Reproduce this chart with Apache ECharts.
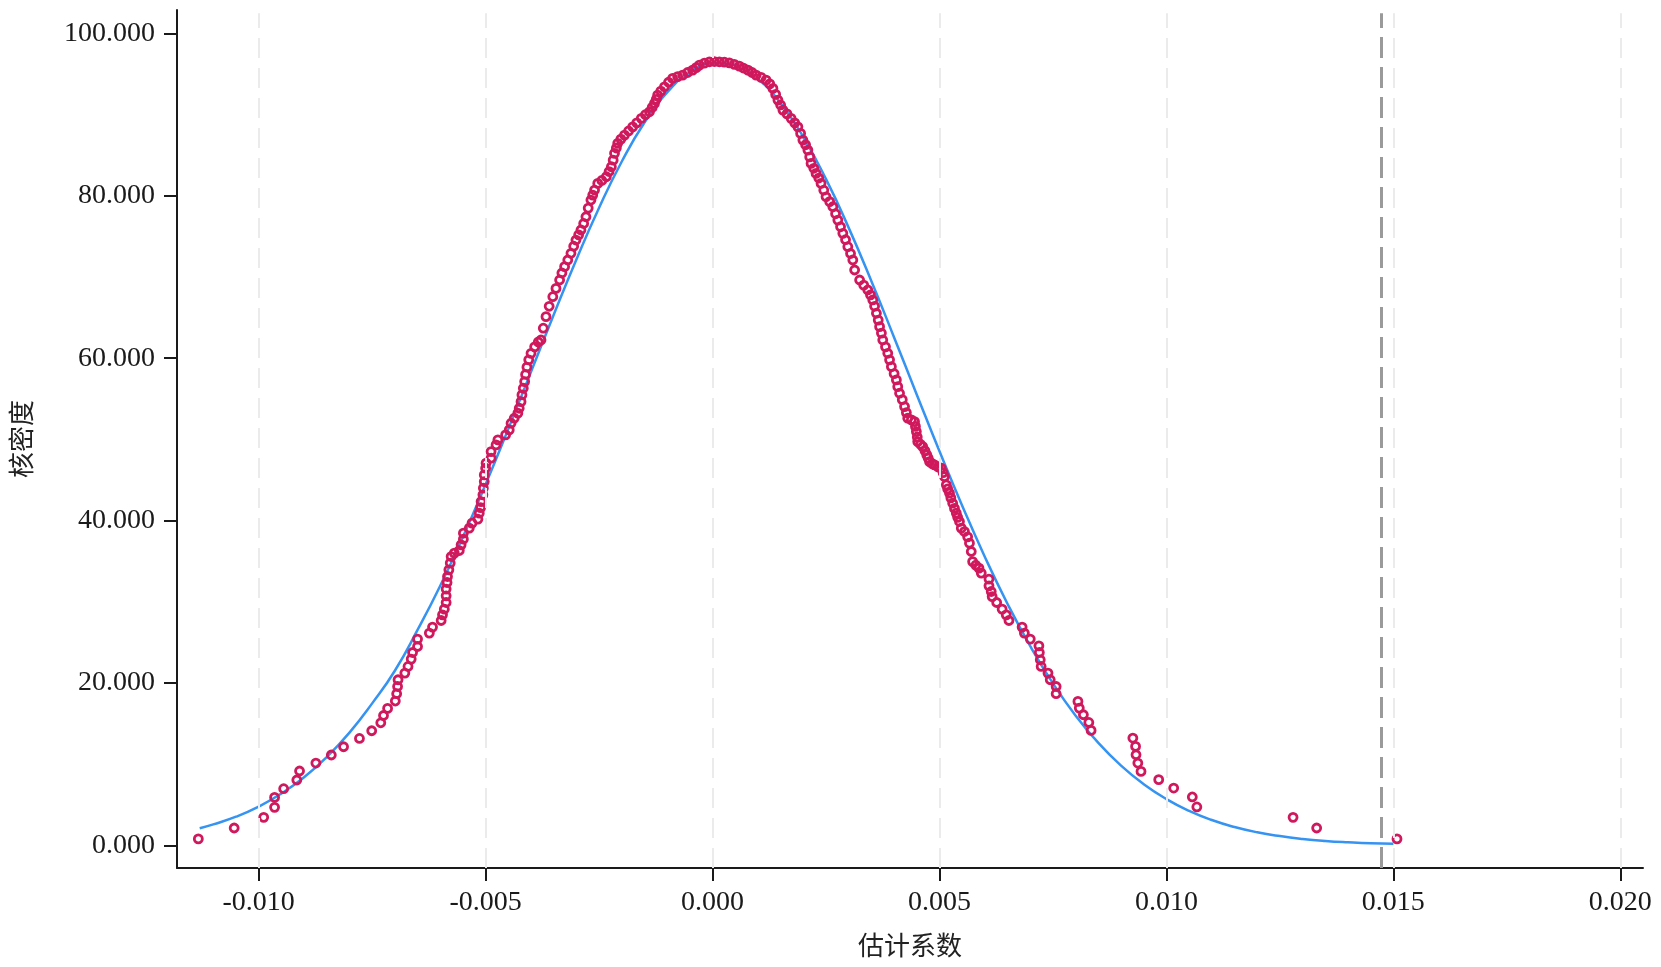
<!DOCTYPE html>
<html>
<head>
<meta charset="utf-8">
<title>核密度</title>
<script src="https://cdn.jsdelivr.net/npm/echarts@6/dist/echarts.min.js"></script>
<style>
  html, body { margin: 0; padding: 0; background: #fff; }
  #chart { width: 1661px; height: 967px; }
</style>
</head>
<body>
<div id="chart"></div>
<script>
// axis ticks
const xTicks = [-0.010, -0.005, 0.000, 0.005, 0.010, 0.015, 0.020];
const yTicks = [0, 20, 40, 60, 80, 100];
const refLineX = 0.01473; // dashed reference line

// fitted normal curve (blue)
const normX = [-0.0113, -0.0110, -0.0105, -0.0100, -0.0095, -0.0090, -0.0085, -0.0080, -0.0075, -0.0070,
  -0.0065, -0.0060, -0.0055, -0.0050, -0.0045, -0.0040, -0.0035, -0.0030, -0.0025, -0.0020,
  -0.0015, -0.0010, -0.0005, 0.0000, 0.0005, 0.0010, 0.0015, 0.0020, 0.0025, 0.0030,
  0.0035, 0.0040, 0.0045, 0.0050, 0.0055, 0.0060, 0.0065, 0.0070, 0.0075, 0.0080,
  0.0085, 0.0090, 0.0095, 0.0100, 0.0105, 0.0110, 0.0115, 0.0120, 0.0125, 0.0130,
  0.0135, 0.0140, 0.0145, 0.0150];
const normY = [2.10, 2.57, 3.52, 4.77, 6.37, 8.38, 10.87, 13.88, 17.48, 21.50,
  26.53, 31.98, 37.99, 44.47, 51.30, 58.33, 65.36, 72.17, 78.54, 84.24,
  89.04, 92.75, 95.22, 96.34, 96.06, 94.39, 91.41, 87.24, 82.06, 76.06,
  69.49, 62.56, 55.51, 48.53, 41.83, 35.52, 29.73, 24.53, 19.94, 15.97,
  12.61, 9.81, 7.52, 5.69, 4.24, 3.11, 2.25, 1.60, 1.13, 0.78,
  0.53, 0.36, 0.24, 0.20];

// kernel density at each estimate (red circles)
const kdeX = [
  -0.01133, -0.01054, -0.00989, -0.00965, -0.00965, -0.00945, -0.00916, -0.00910, -0.00874, -0.00840,
  -0.00813, -0.00778, -0.00751, -0.00731, -0.00725, -0.00716, -0.00699, -0.00696, -0.00694, -0.00693,
  -0.00678, -0.00671, -0.00664, -0.00661, -0.00650, -0.00650, -0.00624, -0.00617, -0.00598, -0.00595,
  -0.00591, -0.00587, -0.00587, -0.00587, -0.00585, -0.00584, -0.00581, -0.00578, -0.00576, -0.00569,
  -0.00558, -0.00554, -0.00549, -0.00549, -0.00536, -0.00530, -0.00517, -0.00514, -0.00511, -0.00510,
  -0.00506, -0.00505, -0.00503, -0.00503, -0.00500, -0.00499, -0.00488, -0.00488, -0.00477, -0.00473,
  -0.00456, -0.00448, -0.00444, -0.00437, -0.00429, -0.00426, -0.00422, -0.00420, -0.00417, -0.00414,
  -0.00412, -0.00409, -0.00405, -0.00400, -0.00392, -0.00384, -0.00378, -0.00373, -0.00367, -0.00360,
  -0.00352, -0.00345, -0.00337, -0.00332, -0.00326, -0.00319, -0.00312, -0.00306, -0.00301, -0.00295,
  -0.00290, -0.00284, -0.00279, -0.00274, -0.00268, -0.00264, -0.00260, -0.00253, -0.00244, -0.00234,
  -0.00228, -0.00223, -0.00219, -0.00216, -0.00212, -0.00209, -0.00202, -0.00194, -0.00185, -0.00176,
  -0.00167, -0.00157, -0.00148, -0.00139, -0.00133, -0.00128, -0.00124, -0.00121, -0.00114, -0.00106,
  -0.00097, -0.00088, -0.00077, -0.00066, -0.00055, -0.00044, -0.00036, -0.00029, -0.00018, -0.00007,
  0.00004, 0.00015, 0.00026, 0.00037, 0.00048, 0.00059, 0.00068, 0.00078, 0.00087, 0.00096,
  0.00107, 0.00118, 0.00126, 0.00133, 0.00139, 0.00144, 0.00150, 0.00155, 0.00164, 0.00173,
  0.00181, 0.00188, 0.00194, 0.00199, 0.00205, 0.00210, 0.00214, 0.00217, 0.00223, 0.00228,
  0.00234, 0.00239, 0.00245, 0.00250, 0.00258, 0.00265, 0.00271, 0.00276, 0.00282, 0.00287,
  0.00293, 0.00298, 0.00304, 0.00309, 0.00313, 0.00324, 0.00333, 0.00342, 0.00348, 0.00353,
  0.00357, 0.00361, 0.00365, 0.00368, 0.00372, 0.00375, 0.00381, 0.00386, 0.00390, 0.00394,
  0.00400, 0.00405, 0.00408, 0.00412, 0.00418, 0.00423, 0.00427, 0.00430, 0.00438, 0.00445,
  0.00447, 0.00449, 0.00451, 0.00452, 0.00458, 0.00463, 0.00468, 0.00472, 0.00475, 0.00478,
  0.00484, 0.00489, 0.00497, 0.00504, 0.00508, 0.00511, 0.00515, 0.00518, 0.00522, 0.00525,
  0.00529, 0.00533, 0.00537, 0.00540, 0.00544, 0.00548, 0.00555, 0.00562, 0.00566, 0.00570,
  0.00573, 0.00580, 0.00587, 0.00592, 0.00609, 0.00609, 0.00614, 0.00616, 0.00626, 0.00638,
  0.00647, 0.00653, 0.00682, 0.00687, 0.00700, 0.00719, 0.00720, 0.00722, 0.00724, 0.00739,
  0.00744, 0.00757, 0.00757, 0.00805, 0.00808, 0.00817, 0.00829, 0.00834, 0.00926, 0.00932,
  0.00933, 0.00937, 0.00944, 0.00983, 0.01016, 0.01057, 0.01067, 0.01279, 0.01331, 0.01508
];
const kdeY = [
  0.78, 2.13, 3.44, 4.67, 5.90, 6.97, 8.04, 9.15, 10.13, 11.12,
  12.14, 13.16, 14.11, 15.09, 15.99, 16.86, 17.77, 18.67, 19.56, 20.39,
  21.21, 22.03, 22.94, 23.75, 24.49, 25.40, 26.14, 26.88, 27.69, 28.39,
  29.09, 29.91, 30.73, 31.56, 32.37, 33.11, 33.93, 34.76, 35.57, 35.99,
  36.31, 37.01, 37.71, 38.45, 39.07, 39.68, 40.17, 40.91, 41.60, 42.34,
  43.17, 43.99, 44.80, 45.63, 46.45, 47.07, 47.69, 48.50, 49.32, 49.94,
  50.55, 51.17, 51.99, 52.61, 53.23, 53.84, 54.65, 55.48, 56.30, 57.12,
  58.00, 58.90, 59.80, 60.60, 61.40, 62.00, 62.25, 63.70, 65.12, 66.40,
  67.58, 68.60, 69.64, 70.50, 71.28, 72.10, 72.93, 73.80, 74.56, 75.20,
  75.80, 76.60, 77.43, 78.50, 79.49, 80.10, 80.72, 81.54, 81.90, 82.36,
  83.00, 83.59, 84.40, 85.24, 85.90, 86.47, 87.00, 87.49, 88.00, 88.51,
  89.00, 89.55, 90.00, 90.36, 90.90, 91.39, 91.90, 92.41, 92.90, 93.44,
  94.00, 94.47, 94.70, 94.88, 95.20, 95.49, 95.80, 96.11, 96.35, 96.52,
  96.55, 96.52, 96.48, 96.39, 96.20, 95.98, 95.75, 95.49, 95.20, 94.88,
  94.60, 94.27, 93.80, 93.24, 92.50, 91.80, 91.20, 90.57, 90.10, 89.55,
  89.00, 88.51, 87.70, 86.87, 86.30, 85.64, 84.80, 84.00, 83.40, 82.77,
  82.20, 81.54, 80.70, 79.89, 79.30, 78.66, 77.80, 77.02, 76.20, 75.39,
  74.60, 73.74, 72.90, 72.10, 70.87, 69.64, 69.00, 68.41, 67.80, 67.18,
  66.40, 65.54, 64.70, 63.89, 63.10, 62.25, 61.40, 60.61, 59.80, 58.96,
  58.10, 57.33, 56.50, 55.69, 54.90, 54.04, 53.30, 52.61, 52.40, 52.19,
  51.60, 50.96, 50.30, 49.73, 49.40, 49.11, 48.60, 48.09, 47.70, 47.27,
  47.00, 46.86, 46.60, 46.45, 45.90, 45.42, 44.40, 43.90, 43.38, 42.80,
  42.14, 41.50, 40.91, 40.40, 39.88, 39.07, 38.65, 38.00, 37.22, 36.19,
  34.95, 34.50, 34.14, 33.53, 32.79, 31.96, 31.26, 30.64, 29.91, 29.09,
  28.39, 27.69, 26.88, 26.14, 25.40, 24.57, 23.75, 22.85, 22.03, 21.21,
  20.39, 19.56, 18.67, 17.72, 16.90, 16.08, 15.13, 14.15, 13.21, 12.18,
  11.15, 10.13, 9.10, 8.08, 7.05, 5.95, 4.72, 3.44, 2.13, 0.78
];

const serif = '"Liberation Serif", "DejaVu Serif", serif';
const cjk = '"Noto Sans CJK SC", sans-serif';
const yMin = -2.8;
const yMax = 102.9;

var myChart = echarts.init(document.getElementById('chart'));

// vertical dashed line from bottom to top of the plot
const vLine = v => [{ coord: [v, yMin] }, { coord: [v, yMax - 0.4] }];

const getOptions = () => {
  return {
    backgroundColor: '#fff',
    animation: false,
    grid: {
      left: 177,
      right: 18,
      top: 10,
      bottom: 99
    },
    xAxis: {
      type: 'value',
      min: -0.0118,
      max: 0.0205,
      name: '估计系数',
      nameLocation: 'middle',
      nameGap: 64,
      nameTextStyle: { fontFamily: cjk, fontSize: 26, color: '#222' },
      axisLine: { show: true, onZero: false, lineStyle: { color: '#1a1a1a', width: 2 } },
      axisTick: { show: true, length: 13, customValues: xTicks, lineStyle: { color: '#1a1a1a', width: 2 } },
      axisLabel: {
        customValues: xTicks,
        margin: 21,
        fontFamily: serif,
        fontSize: 28,
        color: '#1a1a1a',
        formatter: v => v.toFixed(3)
      },
      splitLine: { show: false }
    },
    yAxis: {
      type: 'value',
      min: yMin,
      max: yMax,
      name: '核密度',
      nameLocation: 'middle',
      nameGap: 143,
      nameTextStyle: { fontFamily: cjk, fontSize: 26, color: '#222' },
      axisLine: { show: true, onZero: false, lineStyle: { color: '#1a1a1a', width: 2 } },
      axisTick: { show: true, length: 13, customValues: yTicks, lineStyle: { color: '#1a1a1a', width: 2 } },
      axisLabel: {
        customValues: yTicks,
        margin: 22,
        fontFamily: serif,
        fontSize: 28,
        color: '#1a1a1a',
        formatter: v => v.toFixed(3)
      },
      splitLine: { show: false }
    },
    series: [
      {
        // light dashed vertical grid at every x tick + the reference line
        name: 'grid',
        type: 'line',
        data: [],
        silent: true,
        z: 1,
        markLine: {
          silent: true,
          symbol: ['none', 'none'],
          label: { show: false },
          lineStyle: { color: '#ebebeb', width: 2, type: [20, 10] },
          data: xTicks.map(vLine).concat([
            vLine(refLineX).map((p, i) => i === 0
              ? Object.assign({}, p, { lineStyle: { color: '#9a9a9a', width: 3, type: [21, 9] } })
              : p)
          ])
        }
      },
      {
        name: '正态分布',
        type: 'line',
        data: normX.map((x, i) => [x, normY[i]]),
        smooth: true,
        showSymbol: false,
        z: 2,
        lineStyle: { color: '#3593f2', width: 2.5 }
      },
      {
        name: '核密度',
        type: 'scatter',
        data: kdeX.map((x, i) => [x, kdeY[i]]),
        symbol: 'circle',
        symbolSize: 8,
        z: 3,
        itemStyle: {
          color: 'rgba(0,0,0,0)',
          borderColor: '#d0195c',
          borderWidth: 2.8,
          opacity: 1
        }
      }
    ]
  };
};

myChart.setOption(getOptions());
</script>
</body>
</html>
